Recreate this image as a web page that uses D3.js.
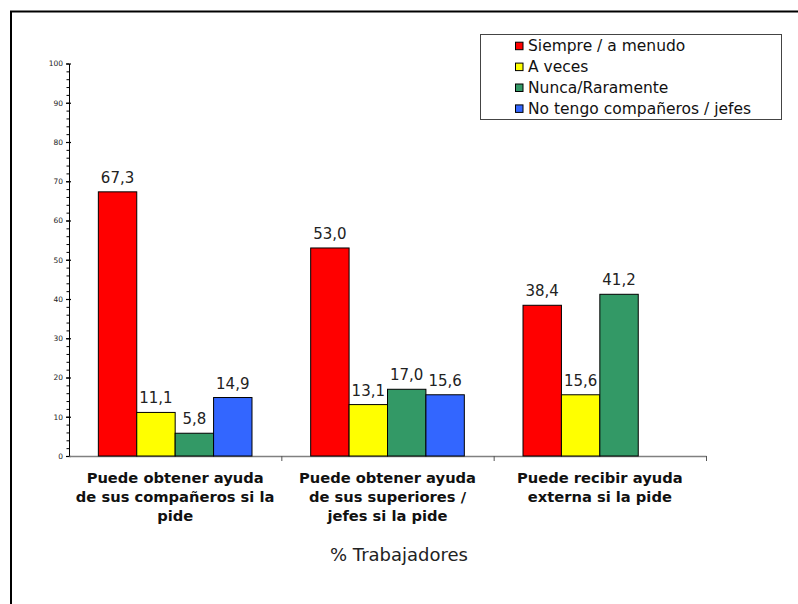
<!DOCTYPE html>
<html><head><meta charset="utf-8">
<script src="https://cdn.jsdelivr.net/npm/d3@7"></script>
<style>body{margin:0;background:#fff}svg{display:block}</style>
</head><body>
<script>
const categories = [
  ["Puede obtener ayuda", "de sus compañeros si la", "pide"],
  ["Puede obtener ayuda", "de sus superiores /", "jefes si la pide"],
  ["Puede recibir ayuda", "externa si la pide"]
];
const seriesNames = ["Siempre / a menudo", "A veces", "Nunca/Raramente", "No tengo compañeros / jefes"];
const seriesColors = ["#FF0000", "#FFFF00", "#339966", "#3366FF"];
const siempre = [67.3, 53.0, 38.4];
const aVeces = [11.1, 13.1, 15.6];
const nunca = [5.8, 17.0, 41.2];
const noTengo = [14.9, 15.6, null];
const yTicks = [0, 10, 20, 30, 40, 50, 60, 70, 80, 90, 100];
const xTitle = "% Trabajadores";

(function () {
const series = [siempre, aVeces, nunca, noTengo];
const W = 798, H = 604;
const FONT = "DejaVu Sans, Verdana, sans-serif";
const svg = d3.select("body").append("svg").attr("width", W).attr("height", H);

// outer frame
svg.append("rect").attr("x", 11).attr("y", 11.5).attr("width", 900).attr("height", 700)
  .attr("fill", "none").attr("stroke", "#000").attr("stroke-width", 2);

const pL = 69, pR = 706, pT = 63.5, pB = 456;
const y = d3.scaleLinear().domain([0, 100]).range([pB, pT]);
const x0 = d3.scaleBand().domain(d3.range(categories.length)).range([pL, pR]).paddingInner(0).paddingOuter(0);
const groupPad = 0.1382;
const x1 = d3.scaleBand().domain(d3.range(seriesNames.length))
  .range([x0.bandwidth() * groupPad, x0.bandwidth() * (1 - groupPad)]);

// minor ticks
svg.append("g").attr("transform", `translate(${pL},0)`)
  .call(d3.axisLeft(y).tickValues(d3.range(0, 101, 2)).tickSize(2.5).tickFormat(""))
  .call(g => g.select(".domain").remove())
  .call(g => g.selectAll("line").attr("stroke", "#000"));

// major y axis
const yAxis = svg.append("g").attr("transform", `translate(${pL},0)`)
  .call(d3.axisLeft(y).tickValues(yTicks).tickSize(3).tickSizeOuter(0).tickPadding(4));
yAxis.select(".domain").attr("stroke", "#000").attr("stroke-width", 1);
yAxis.selectAll(".tick line").attr("x2", 2).attr("x1", -3).attr("stroke", "#000").attr("stroke-width", 1.2);
yAxis.selectAll(".tick text").attr("font-family", FONT)
  .attr("font-size", 7.5).attr("fill", "#222").attr("x", -6);

// x axis
const xb = d3.scaleLinear().domain([0, categories.length]).range([pL, pR]);
const xAxis = svg.append("g").attr("transform", `translate(0,${pB})`)
  .call(d3.axisBottom(xb).tickValues(d3.range(1, categories.length + 1)).tickSize(5).tickSizeOuter(0).tickFormat(""));
xAxis.select(".domain").attr("stroke", "#808080").attr("stroke-width", 1.5);
xAxis.selectAll(".tick line").attr("stroke", "#555");

// bars
const fmt = v => d3.format(".1f")(v).replace(".", ",");
categories.forEach((c, ci) => {
  const g = svg.append("g").attr("transform", `translate(${x0(ci)},0)`);
  series.forEach((s, si) => {
    const v = s[ci];
    if (v == null) return;
    g.append("rect")
      .attr("x", x1(si)).attr("y", y(v))
      .attr("width", x1.bandwidth()).attr("height", y(0) - y(v))
      .attr("fill", seriesColors[si]).attr("stroke", "#000").attr("stroke-width", 1);
    g.append("text")
      .attr("x", x1(si) + x1.bandwidth() / 2).attr("y", y(v) - 9)
      .attr("text-anchor", "middle")
      .attr("font-family", FONT).attr("font-size", 15)
      .attr("fill", "#222").text(fmt(v));
  });
  const t = svg.append("text").attr("text-anchor", "middle")
    .attr("font-family", FONT).attr("font-weight", "bold")
    .attr("font-size", 14.7).attr("fill", "#111");
  c.forEach((line, li) => {
    t.append("tspan").attr("x", x0(ci) + x0.bandwidth() / 2).attr("y", 482.5 + li * 19.3).text(line);
  });
});

// x title
svg.append("text").attr("x", 399).attr("y", 561).attr("text-anchor", "middle")
  .attr("font-family", FONT).attr("font-size", 18)
  .attr("fill", "#222").text(xTitle);

// legend
const lg = svg.append("g");
lg.append("rect").attr("x", 480.5).attr("y", 34.5).attr("width", 301).attr("height", 85)
  .attr("fill", "#fff").attr("stroke", "#444").attr("stroke-width", 1);
seriesNames.forEach((n, i) => {
  const cy = 45.7 + i * 20.9;
  lg.append("rect").attr("x", 515.5).attr("y", cy - 3.5).attr("width", 7.5).attr("height", 7.5)
    .attr("fill", seriesColors[i]).attr("stroke", "#000").attr("stroke-width", 1);
  lg.append("text").attr("x", 528).attr("y", cy + 5.5)
    .attr("font-family", FONT).attr("font-size", 15.5)
    .attr("fill", "#111").text(n);
});
})();
</script>
</body></html>
